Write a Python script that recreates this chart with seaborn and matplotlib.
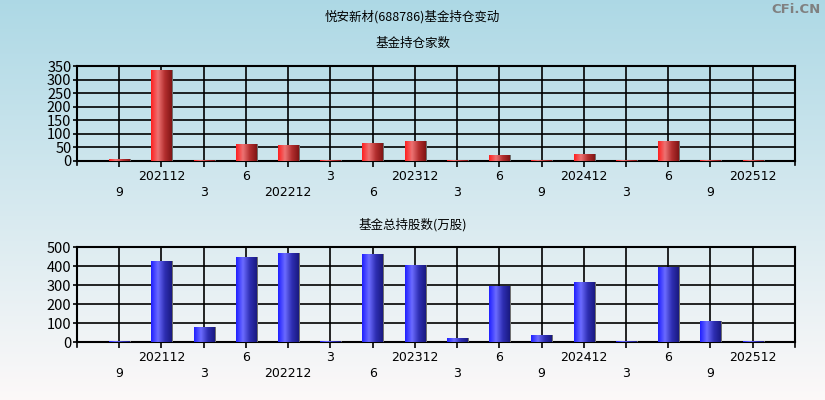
import numpy as np
import pandas as pd
import seaborn as sns
import matplotlib.pyplot as plt
from matplotlib.colors import LinearSegmentedColormap

# period labels (upper / lower rows alternate)
periods = ['9', '202112', '3', '6', '202212', '3', '6', '202312',
           '3', '6', '9', '202412', '3', '6', '9', '202512']
# number of funds holding
fund_count = [7, 335, 5, 63, 59, 5, 66, 74, 5, 22, 5, 26, 5, 74, 5, 5]
# total shares held by funds (10k shares)
fund_shares = [9, 428, 80, 449, 470, 9, 465, 407, 23, 298, 38, 317, 8, 398, 112, 8]

plt.rcParams['font.family'] = ['Noto Sans CJK SC', 'DejaVu Sans']

fig = plt.figure(figsize=(8.25, 4), dpi=100)

# background gradient, light blue at top to near white at bottom
bg = fig.add_axes([0, 0, 1, 1], zorder=-10)
grad = np.linspace(0, 1, 256).reshape(-1, 1)
bg_cmap = LinearSegmentedColormap.from_list('bg', [(0.99, 0.975, 0.975), (0.68, 0.85, 0.90)])
bg.imshow(grad, aspect='auto', cmap=bg_cmap, origin='lower', extent=[0, 1, 0, 1])
bg.set_axis_off()

red_cmap = LinearSegmentedColormap.from_list(
    'r', [(1.0, 0.12, 0.12), (0.93, 0.45, 0.45), (0.70, 0.18, 0.18), (0.50, 0.08, 0.08)])
blue_cmap = LinearSegmentedColormap.from_list(
    'b', [(0.12, 0.12, 1.0), (0.42, 0.42, 1.0), (0.18, 0.18, 0.70), (0.10, 0.10, 0.50)])


def draw_panel(rect, values, ymax, ystep, cmap, solid):
    ax = fig.add_axes(rect)
    df = pd.DataFrame({'x': range(len(values)), 'v': values})
    sns.barplot(data=df, x='x', y='v', ax=ax, width=0.48, color=solid, zorder=3,
                native_scale=True)
    horiz = np.linspace(0, 1, 256).reshape(1, -1)
    for p in ax.patches:
        x0, y0 = p.get_x(), p.get_y()
        w, h = p.get_width(), p.get_height()
        # grey shadow on right edge
        ax.fill_between([x0 + w, x0 + w + 0.04], 0, h, color='#707070', zorder=2.9, lw=0)
        im = ax.imshow(horiz, aspect='auto', cmap=cmap, extent=[x0, x0 + w, y0, y0 + h],
                       zorder=3.1)
        im.set_clip_path(p)
        p.set_edgecolor('none')
    ax.set_xlim(-1, len(values))
    ax.set_ylim(0, ymax)
    ax.set_yticks(np.arange(0, ymax + 1, ystep))
    ax.set_xticks(range(len(values)))
    ax.set_xticklabels([])
    ax.set_facecolor('none')
    ax.grid(True, color='black', lw=1.2, zorder=1)
    ax.set_axisbelow(True)
    for s in ax.spines.values():
        s.set_color('black')
        s.set_linewidth(1.5)
    ax.tick_params(axis='y', length=3, width=1.2, labelsize=10.5, pad=1, colors='black')
    ax.tick_params(axis='x', length=4, width=1.2, direction='out')
    ax.set_xlabel('')
    ax.set_ylabel('')
    # extra ticks at left/right ends
    for xe in (-1, len(values)):
        ax.plot([xe, xe], [0, -ymax * 0.045], color='black', lw=1.2, clip_on=False)
    # two-row labels
    for i, lab in enumerate(periods):
        yoff = -0.16 if i % 2 == 1 else -0.33
        ax.text(i, yoff, lab, transform=ax.get_xaxis_transform(), ha='center', va='center',
                fontsize=9, family='DejaVu Sans')
    return ax


draw_panel([0.0933, 0.5975, 0.8703, 0.2375], fund_count, 350, 50, red_cmap, '#d03030')
draw_panel([0.0933, 0.1443, 0.8703, 0.2375], fund_shares, 500, 100, blue_cmap, '#3030d0')

fig.text(0.5, 0.957, '悦安新材(688786)基金持仓变动', ha='center', va='center', fontsize=9)
fig.text(0.5, 0.892, '基金持仓家数', ha='center', va='center', fontsize=9)
fig.text(0.5, 0.437, '基金总持股数(万股)', ha='center', va='center', fontsize=9)
fig.text(0.995, 0.977, 'CFi.CN', ha='right', va='center', fontsize=9.5, color='#808080',
         family='DejaVu Sans', fontweight='bold')

fig.savefig('out.png', dpi=100)
